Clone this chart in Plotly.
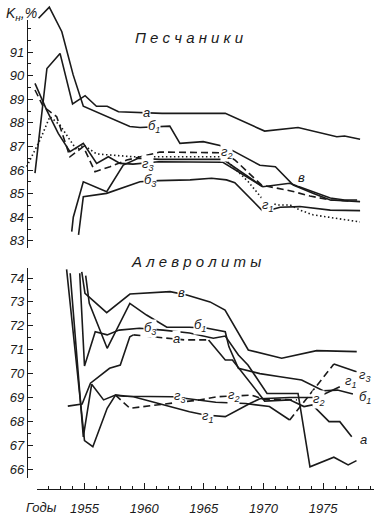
import plotly.graph_objects as go

# ---------------- data: Песчаники (top panel) ----------------
sand_a_years = [1950.85, 1951.85, 1952.95, 1954.0, 1955.05, 1956.0, 1956.9, 1957.85, 1961.5, 1966.8, 1970.1, 1972.9, 1976.15, 1976.8, 1978.1]
sand_a_vals = [85.87, 90.3, 90.94, 88.8, 89.15, 88.7, 88.7, 88.47, 88.4, 88.4, 87.65, 87.8, 87.41, 87.44, 87.3]

sand_b1_years = [1951.15, 1952.05, 1953.1, 1954.05, 1954.9, 1958.8, 1959.65, 1962.15, 1963.0, 1964.95, 1966.8, 1969.7, 1971.0, 1972.5, 1974.2, 1975.6, 1978.1]
sand_b1_vals = [92.43, 92.9, 91.86, 90.03, 88.7, 87.84, 87.8, 87.86, 87.13, 87.2, 86.99, 86.2, 86.14, 85.36, 85.0, 84.73, 84.66]

sand_b3_years = [1954.5, 1954.9, 1956.85, 1959.65, 1961.2, 1963.85, 1965.65, 1966.9, 1967.6, 1970.0, 1971.4, 1973.05, 1975.6, 1978.1]
sand_b3_vals = [83.25, 84.87, 85.01, 85.5, 85.55, 85.58, 85.65, 85.58, 85.46, 84.23, 84.42, 84.45, 84.3, 84.28]

sand_v_years = [1953.93, 1954.06, 1954.9, 1956.86, 1958.25, 1959.5, 1961.3, 1966.6, 1969.95, 1972.2, 1975.6, 1976.8, 1977.85]
sand_v_vals = [83.39, 84.0, 85.5, 85.08, 86.21, 86.5, 86.45, 86.45, 85.29, 85.44, 84.81, 84.73, 84.73]

sand_g1_years = [1950.15, 1951.27, 1952.1, 1952.95, 1953.78, 1954.35, 1954.9, 1956.02, 1959.07, 1966.6, 1968.73, 1969.99, 1971.11, 1972.23, 1973.07, 1974.15, 1978.09]
sand_g1_vals = [86.14, 87.27, 88.26, 87.9, 87.27, 86.85, 87.06, 86.68, 86.56, 86.56, 85.5, 84.73, 84.52, 84.52, 84.3, 84.1, 83.8]

sand_g2_years = [1950.85, 1951.55, 1952.67, 1953.78, 1954.9, 1955.88, 1957.14, 1958.54, 1961.33, 1966.6, 1967.62, 1969.85, 1972.4, 1973.9, 1975.6, 1977.25]
sand_g2_vals = [89.39, 88.68, 88.26, 86.56, 86.99, 85.93, 86.14, 86.42, 86.76, 86.73, 86.42, 85.36, 85.1, 84.9, 84.73, 84.69]

sand_g3_years = [1950.85, 1951.83, 1952.8, 1953.78, 1954.9, 1956.02, 1957.0, 1957.98, 1959.07, 1961.2, 1966.6, 1969.9]
sand_g3_vals = [89.67, 88.54, 87.55, 86.78, 87.13, 86.28, 86.56, 86.28, 86.25, 86.35, 86.33, 85.3]

# ---------------- data: Алевролиты (bottom panel) ----------------
silt_v_years = [1954.77, 1955.04, 1956.86, 1958.81, 1962.17, 1963.57, 1965.52, 1966.78, 1968.73, 1971.53, 1974.46, 1977.82]
silt_v_vals = [74.26, 73.36, 72.55, 73.33, 73.43, 73.29, 73.0, 72.66, 70.99, 70.64, 70.96, 70.92]

silt_b1_years = [1955.1, 1955.4, 1956.9, 1958.8, 1960.2, 1961.9, 1963.8, 1965.3, 1966.8, 1967.1, 1967.9, 1969.7, 1971.4, 1973.2, 1975.0, 1976.2, 1977.5]
silt_b1_vals = [74.1, 72.94, 71.06, 72.94, 72.45, 71.94, 71.94, 71.9, 71.75, 71.13, 70.22, 70.0, 69.87, 69.73, 69.28, 69.31, 69.15]

silt_b3_years = [1954.6, 1955.0, 1955.9, 1956.9, 1957.9, 1959.6, 1961.6, 1963.8, 1965.8, 1966.8, 1967.9, 1968.7, 1970.3, 1972.9, 1973.9, 1975.9, 1977.1, 1977.8]
silt_b3_vals = [74.2, 70.32, 71.75, 71.62, 71.82, 71.9, 71.82, 71.7, 71.48, 71.57, 70.78, 70.36, 69.17, 69.17, 66.1, 66.5, 66.18, 66.36]

silt_a_solid1_years = [1953.6, 1954.8, 1955.5, 1957.1, 1958.0, 1958.8, 1959.1]
silt_a_solid1_vals = [68.64, 68.73, 69.6, 70.22, 70.36, 71.54, 71.62]
silt_a_dash_years = [1959.1, 1961.3, 1963.4, 1965.4]
silt_a_dash_vals = [71.62, 71.5, 71.41, 71.41]
silt_a_solid2_years = [1965.4, 1966.8, 1967.4, 1968.9, 1970.1, 1972.2, 1973.4, 1974.1, 1975.5, 1976.4, 1977.4]
silt_a_solid2_vals = [71.41, 70.57, 70.57, 69.6, 68.85, 68.9, 68.62, 68.69, 67.99, 67.99, 67.36]

silt_g1_years = [1953.8, 1954.9, 1955.6, 1956.6, 1957.6, 1959.1, 1963.8, 1965.1, 1966.8, 1967.8, 1968.9, 1969.7, 1972.2, 1974.5, 1976.4]
silt_g1_vals = [74.2, 67.35, 69.55, 68.9, 69.1, 69.03, 68.4, 68.27, 68.2, 68.48, 68.76, 68.95, 69.0, 69.0, 69.45]

silt_g2_years = [1957.6, 1958.8, 1962.4, 1963.8, 1964.7, 1966.1, 1969.0, 1970.0, 1971.1, 1972.8]
silt_g2_vals = [69.1, 68.55, 68.77, 68.85, 68.9, 69.03, 69.1, 68.93, 68.93, 68.9]

silt_g3_solid_years = [1953.5, 1955.0, 1955.7, 1956.9, 1957.6, 1958.3, 1962.4, 1963.8, 1966.0, 1968.5, 1970.5, 1972.2]
silt_g3_solid_vals = [74.36, 67.2, 66.94, 68.55, 69.1, 69.05, 69.03, 68.95, 68.8, 68.75, 68.62, 68.06]
silt_g3_dash_years = [1972.2, 1975.9]
silt_g3_dash_vals = [68.06, 70.4]
silt_g3_end_years = [1975.9, 1977.8]
silt_g3_end_vals = [70.4, 70.08]

# tick labels
year_ticks = [1955, 1960, 1965, 1970, 1975]
sand_ticks = [83, 84, 85, 86, 87, 88, 89, 90, 91]
silt_ticks = [66, 67, 68, 69, 70, 71, 72, 73, 74]

# labels on curves: (text, year, value)
sand_labels = [("а", 1960.2, 88.45), ("б<sub>1</sub>", 1960.8, 87.84), ("г<sub>3</sub>", 1960.3, 86.22),
               ("б<sub>3</sub>", 1960.5, 85.56), ("г<sub>2</sub>", 1966.9, 86.75), ("в", 1973.2, 85.68),
               ("г<sub>1</sub>", 1970.35, 84.5)]
silt_labels = [("в", 1963.1, 73.4), ("б<sub>1</sub>", 1964.7, 72.0), ("б<sub>3</sub>", 1960.5, 71.9),
               ("а", 1962.7, 71.45), ("г<sub>3</sub>", 1963.0, 69.03), ("г<sub>2</sub>", 1967.45, 69.1),
               ("г<sub>1</sub>", 1965.35, 68.2), ("г<sub>3</sub>", 1978.5, 69.94), ("г<sub>1</sub>", 1977.3, 69.65),
               ("б<sub>1</sub>", 1978.5, 69.0), ("а", 1978.4, 67.26), ("г<sub>2</sub>", 1974.6, 68.9)]

# ---------------- geometry helpers ----------------
W, H = 377, 520
def fx(px): return px / W
def fy(py): return 1 - py / H
def yr(px): return 1955 + (px - 84.5) / 11.93
def vt(py): return 91 - (py - 52) / 23.6
def vb(py): return 74 - (py - 278) / 23.9

FONT = "Liberation Sans, Arial, sans-serif"
LW = 1.6
fig = go.Figure()

def line(xs, ys, yaxis, dash="solid"):
    fig.add_trace(go.Scatter(x=xs, y=ys, xaxis="x", yaxis=yaxis, mode="lines",
                             line=dict(color="#1a1a1a", width=LW, dash=dash),
                             hoverinfo="skip", showlegend=False))

line(sand_a_years, sand_a_vals, "y")
line(sand_b1_years, sand_b1_vals, "y")
line(sand_b3_years, sand_b3_vals, "y")
line(sand_v_years, sand_v_vals, "y")
line(sand_g3_years, sand_g3_vals, "y")
line(sand_g2_years, sand_g2_vals, "y", "7px,4px")
line(sand_g1_years, sand_g1_vals, "y", "1.5px,2.5px")

line(silt_v_years, silt_v_vals, "y2")
line(silt_b1_years, silt_b1_vals, "y2")
line(silt_b3_years, silt_b3_vals, "y2")
line(silt_a_solid1_years, silt_a_solid1_vals, "y2")
line(silt_a_dash_years, silt_a_dash_vals, "y2", "7px,4px")
line(silt_a_solid2_years, silt_a_solid2_vals, "y2")
line(silt_g1_years, silt_g1_vals, "y2")
line(silt_g2_years, silt_g2_vals, "y2", "7px,4px")
line(silt_g3_solid_years, silt_g3_solid_vals, "y2")
line(silt_g3_dash_years, silt_g3_dash_vals, "y2", "7px,4px")
line(silt_g3_end_years, silt_g3_end_vals, "y2")

# dummy traces so the visible axes get drawn
for ya in ("y3", "y4"):
    fig.add_trace(go.Scatter(x=[None], y=[None], xaxis="x2", yaxis=ya, mode="lines",
                             hoverinfo="skip", showlegend=False))

tickfont = dict(family=FONT, size=13, color="#1a1a1a", style="italic")
axis_common = dict(showline=True, linecolor="#1a1a1a", linewidth=1.3, showgrid=False,
                   zeroline=False, ticks="inside", tickcolor="#1a1a1a", tickwidth=1,
                   tickfont=tickfont, fixedrange=True)

fig.update_layout(
    width=W, height=H, margin=dict(l=0, r=0, t=0, b=0),
    paper_bgcolor="white", plot_bgcolor="rgba(0,0,0,0)",
    xaxis=dict(domain=[fx(12), fx(377)], range=[yr(12), yr(377)], visible=False, fixedrange=True),
    yaxis=dict(domain=[fy(256), fy(0)], range=[vt(256), vt(0)], visible=False, anchor="x", fixedrange=True),
    yaxis2=dict(domain=[fy(488), fy(257)], range=[vb(488), vb(257)], visible=False, anchor="x", fixedrange=True),
    xaxis2=dict(domain=[fx(37), fx(374)], range=[yr(37), yr(374)], anchor="free", position=fy(489),
                tickvals=year_ticks, ticktext=[str(t) for t in year_ticks], ticklen=6,
                ticklabelstandoff=7,
                minor=dict(dtick=1, tick0=1950, ticklen=3, ticks="inside", tickcolor="#1a1a1a"),
                **axis_common),
    yaxis3=dict(domain=[fy(248), fy(20)], range=[vt(248), vt(20)], anchor="free", position=fx(27),
                tickvals=sand_ticks, ticktext=[str(t) for t in sand_ticks], ticklen=5,
                minor=dict(dtick=0.5, tick0=83, ticklen=3, ticks="inside", tickcolor="#1a1a1a"),
                **axis_common),
    yaxis4=dict(domain=[fy(478), fy(268)], range=[vb(478), vb(268)], anchor="free", position=fx(27),
                tickvals=silt_ticks, ticktext=[str(t) for t in silt_ticks], ticklen=5,
                minor=dict(dtick=0.5, tick0=66, ticklen=3, ticks="inside", tickcolor="#1a1a1a"),
                **axis_common),
)

lblfont = dict(family=FONT, size=13, color="#1a1a1a", style="italic")
for t, x, v in sand_labels:
    fig.add_annotation(x=x, y=v, xref="x", yref="y", text=t, showarrow=False, font=lblfont,
                       bgcolor="white", borderpad=0, xanchor="center", yanchor="middle")
for t, x, v in silt_labels:
    fig.add_annotation(x=x, y=v, xref="x", yref="y2", text=t, showarrow=False, font=lblfont,
                       bgcolor="white", borderpad=0, xanchor="center", yanchor="middle")

titlefont = dict(family=FONT, size=15, color="#1a1a1a", style="italic")
fig.add_annotation(x=fx(189), y=fy(38), xref="paper", yref="paper", text="П е с ч а н и к и",
                   showarrow=False, font=titlefont, xanchor="center", yanchor="middle")
fig.add_annotation(x=fx(196), y=fy(261), xref="paper", yref="paper", text="А л е в р о л и т ы",
                   showarrow=False, font=titlefont, xanchor="center", yanchor="middle")
fig.add_annotation(x=fx(4), y=fy(14), xref="paper", yref="paper", xanchor="left", yanchor="middle",
                   text="K<sub>н</sub>,%", showarrow=False,
                   font=dict(family=FONT, size=14, color="#1a1a1a", style="italic"))
fig.add_annotation(x=fx(41), y=fy(507), xref="paper", yref="paper", text="Годы",
                   xanchor="center", yanchor="middle", showarrow=False,
                   font=dict(family=FONT, size=13, color="#1a1a1a", style="italic"))

fig.write_html("out.html", config={"displayModeBar": False},
               post_script="document.body.style.margin='0';document.body.style.overflow='hidden';")
